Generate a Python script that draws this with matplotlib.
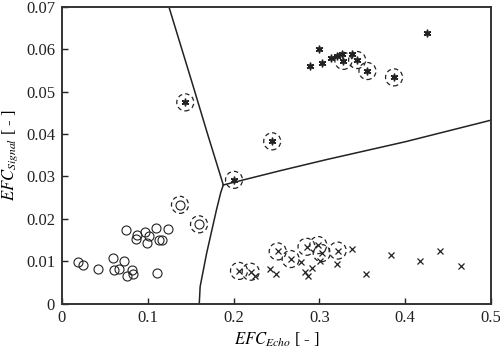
import matplotlib
matplotlib.use("Agg")
import matplotlib.pyplot as plt

plt.rcParams["font.family"] = ["Liberation Serif", "DejaVu Serif"]
plt.rcParams["mathtext.fontset"] = "stix"

# ---- class "o" ----
circ_x = [0.019, 0.025, 0.042, 0.059, 0.061, 0.067, 0.072, 0.076, 0.082, 0.083, 0.111,
          0.075, 0.087, 0.086, 0.097, 0.101, 0.099, 0.110, 0.113, 0.116, 0.123]
circ_y = [0.0098, 0.0090, 0.0082, 0.0107, 0.0080, 0.0082, 0.0101, 0.0065, 0.0079, 0.0070, 0.0071,
          0.0174, 0.0163, 0.0153, 0.0169, 0.0160, 0.0144, 0.0178, 0.0151, 0.0149, 0.0176]
circ_px = [0.1375, 0.1597]
circ_py = [0.0233, 0.0187]

# ---- class "*" ----
star_x = [0.289, 0.300, 0.303, 0.314, 0.321, 0.326, 0.338, 0.425]
star_y = [0.0561, 0.0600, 0.0567, 0.0580, 0.0585, 0.0589, 0.0590, 0.0638]
star_px = [0.1437, 0.245, 0.2005, 0.328, 0.344, 0.356, 0.387]
star_py = [0.0475, 0.0383, 0.0292, 0.0573, 0.0575, 0.0549, 0.0534]

# ---- class "x" ----
cross_x = [0.225, 0.242, 0.249, 0.278, 0.283, 0.287, 0.291, 0.301, 0.321, 0.338,
           0.354, 0.383, 0.417, 0.441, 0.465]
cross_y = [0.0064, 0.0082, 0.0069, 0.0099, 0.0074, 0.0065, 0.0083, 0.0101, 0.0094, 0.0128,
           0.0069, 0.0115, 0.0100, 0.0125, 0.0089]
cross_px = [0.2063, 0.2199, 0.2514, 0.2665, 0.285, 0.2987, 0.3027, 0.3213]
cross_py = [0.0077, 0.0075, 0.0123, 0.0105, 0.0134, 0.0138, 0.0119, 0.0125]

# ---- decision boundaries ----
b1_x = [0.1247, 0.152, 0.170, 0.188]
b1_y = [0.0700, 0.0519, 0.0398, 0.0280]
b2_x = [0.188, 0.185, 0.180, 0.1686, 0.161, 0.160]
b2_y = [0.0280, 0.0262, 0.0221, 0.0119, 0.0040, 0.0]
b3_x = [0.188, 0.255, 0.3085, 0.40, 0.5]
b3_y = [0.0280, 0.0314, 0.0340, 0.0382, 0.0433]

fig = plt.figure(figsize=(5, 3.55), dpi=100)
ax = fig.add_axes([0.124, 0.145, 0.858, 0.835])

ax.plot(b1_x, b1_y, color="#222222", lw=1.1)
ax.plot(b2_x, b2_y, color="#222222", lw=1.1)
ax.plot(b3_x, b3_y, color="#222222", lw=1.1)

# plain samples
ax.plot(circ_x + circ_px, circ_y + circ_py, "o", mfc="none", mec="#222222", ms=6.5, mew=0.8)
ax.plot(star_x + star_px, star_y + star_py, marker=(6, 2, 0), ls="none", color="#222222", ms=5.5, mew=1.0)
ax.plot(star_x + star_px, star_y + star_py, "o", color="#222222", ms=2.5)
ax.plot(cross_x + cross_px, cross_y + cross_py, "x", color="#222222", ms=4, mew=0.9)

# dashed rings round the prototypes
ring_x = circ_px + star_px + cross_px
ring_y = circ_py + star_py + cross_py
ax.scatter(ring_x, ring_y, s=150, facecolors="none", edgecolors="#222222",
           linewidths=0.9, linestyles=(0, (3.5, 2.5)), zorder=3)

ax.set_xlim(0, 0.5)
ax.set_ylim(0, 0.07)
ax.set_xticks([0, 0.1, 0.2, 0.3, 0.4, 0.5])
ax.set_xticklabels(["0", "0.1", "0.2", "0.3", "0.4", "0.5"])
ax.set_yticks([0, 0.01, 0.02, 0.03, 0.04, 0.05, 0.06, 0.07])
ax.set_yticklabels(["0", "0.01", "0.02", "0.03", "0.04", "0.05", "0.06", "0.07"])
ax.tick_params(direction="in", length=4, width=1, labelsize=12, pad=5, colors="#222222")
for s in ax.spines.values():
    s.set_linewidth(1.4)
    s.set_color("#333333")

ax.set_xlabel(r"$EFC_{Echo}$ [ - ]", fontsize=12, labelpad=3)
ax.set_ylabel(r"$EFC_{Signal}$ [ - ]", fontsize=12, labelpad=4)

fig.savefig("out.png", dpi=100)
